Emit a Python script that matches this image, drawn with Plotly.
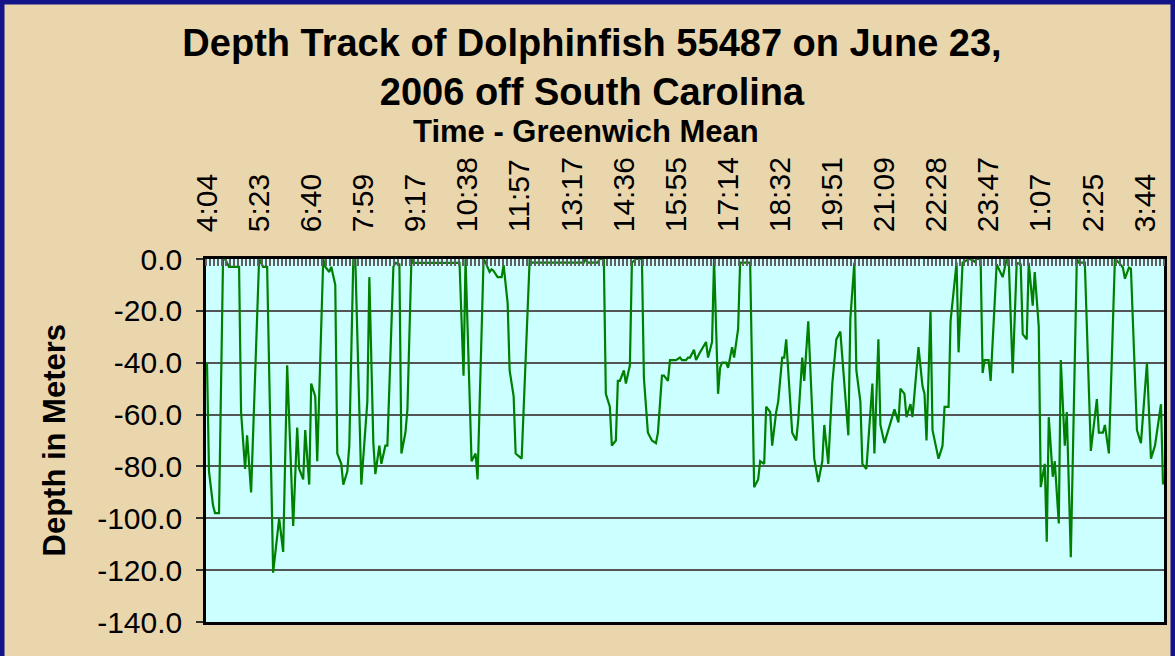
import plotly.graph_objects as go

# ---- data ----
time_labels = ["4:04", "5:23", "6:40", "7:59", "9:17", "10:38", "11:57", "13:17",
               "14:36", "15:55", "17:14", "18:32", "19:51", "21:09", "22:28",
               "23:47", "1:07", "2:25", "3:44"]
label_every = 26          # one time label every 26 samples
n_samples = 478           # number of depth samples (categories)

sample_index = [
    0, 1, 3, 4, 6, 8, 9, 11, 16, 17, 19, 20, 22, 26, 28, 30, 33, 36, 38, 40,
    43, 45, 46, 48, 49, 51, 52, 54, 55, 58, 59, 61, 62, 64, 65, 67, 68, 70, 71, 73,
    74, 77, 80, 81, 83, 84, 86, 87, 89, 90, 93, 94, 96, 97, 99, 100, 102, 103, 126, 128,
    129, 132, 134, 135, 138, 139, 141, 142, 143, 145, 147, 148, 150, 151, 153, 154, 157, 161, 162, 188,
    189, 190, 195, 196, 198, 199, 201, 202, 204, 205, 206, 208, 209, 211, 212, 214, 217, 218, 220, 222,
    224, 225, 227, 228, 230, 231, 234, 236, 237, 239, 240, 241, 243, 244, 246, 248, 249, 250, 252, 253,
    255, 256, 257, 259, 260, 262, 263, 265, 266, 271, 273, 275, 276, 278, 279, 281, 282, 284, 285, 287,
    288, 289, 292, 294, 295, 297, 298, 300, 303, 305, 307, 308, 310, 312, 314, 316, 320, 321, 323, 324,
    326, 327, 329, 332, 333, 335, 336, 338, 340, 342, 343, 345, 346, 348, 349, 351, 352, 355, 357, 358,
    359, 361, 362, 365, 367, 368, 370, 371, 374, 375, 377, 378, 380, 382, 383, 384, 386, 387, 388, 390,
    391, 394, 396, 397, 399, 400, 402, 404, 406, 407, 409, 410, 412, 413, 415, 416, 418, 419, 420, 422,
    423, 425, 426, 428, 429, 431, 434, 435, 438, 441, 444, 445, 447, 448, 450, 453, 455, 457, 458, 460,
    461, 464, 466, 469, 471, 473, 476, 477,
]

depth_m = [
    -40, -82, -95, -98, -98, 0, 0, -3, -3, -59, -81, -68, -90, 0, -3, -3, -121, -100, -113, -41,
    -103, -65, -81, -85, -66, -87, -48, -53, -78, 0, -3, -5, -3, -10, -75, -79, -87, -82, -72, 0,
    0, -87, -55, -7, -71, -83, -72, -79, -72, -72, -3, -1.5, -2, -75, -67, -58, 0, -1.5, -1.5, -45,
    0, -78, -75, -85, 0, -1.4, -5, -4, -4.6, -7, -7, -2.4, -17, -43, -53, -75, -77, 0, -1.4, -1.4,
    0, -1.4, -1.4, 0, 0, -52, -57, -72, -70, -47, -47, -43, -48, -41, -1.4, 0, 0, -46, -67, -70,
    -71, -67, -45, -45, -47, -39, -39, -38, -39, -39, -38, -38, -35, -39, -36, -33, -32, -38, -32, 0,
    -52, -42, -40, -40, -42, -34, -38, -27, -1.4, -1.4, -88, -85, -78, -79, -57, -59, -72, -59, -55, -38,
    -38, -31, -67, -70, -62, -38, -47, -24, -77, -86, -78, -64, -79, -48, -31, -28, -68, -23, -1.4, -43,
    -55, -79, -81, -48, -75, -31, -64, -71, -66, -61, -58, -63, -50, -52, -61, -56, -61, -34, -49, -52,
    -70, -20, -66, -77, -72, -57, -57, -24, -1.4, -36, -1.4, -1, 0, -0.4, -1, 0, 0, -44, -39, -39,
    -47, -2, -5, -7, 0, 0, -44, -1.5, -2, -29, -31, -1.5, -18, -5, -26, -88, -79, -109, -61, -84,
    -78, -102, -39, -72, -59, -115, 0, -1.4, -1.4, -74, -54, -67, -67, -64, -75, 0, -1.4, -3.3, -7.6, -3.3,
    -3.7, -66, -71, -40, -77, -72, -56, -87,
]

depth_ticks = [0, -20, -40, -60, -80, -100, -120, -140]

FONT = "Arial, Liberation Sans, sans-serif"

fig = go.Figure(
    go.Scatter(x=sample_index, y=depth_m, mode="lines",
               line=dict(color="#008000", width=2.2), hoverinfo="skip")
)

W, H = 1175, 656
ML, MR, MT, MB = 206, 11, 259, 34
PW, PH = W - ML - MR, H - MT - MB

fig.update_layout(
    width=W, height=H,
    margin=dict(l=ML, r=MR, t=MT, b=MB, autoexpand=False),
    paper_bgcolor="#EAD6AC",
    plot_bgcolor="#CCFFFF",
    showlegend=False,
    font=dict(family=FONT, color="black"),
    title=dict(
        text="<b>Depth Track of Dolphinfish 55487 on June 23,<br>2006 off South Carolina</b>",
        x=592 / W, xanchor="center", y=1 - 56 / H, yanchor="top",
        font=dict(size=38, family=FONT, color="black"),
    ),
    xaxis=dict(
        side="top",
        range=[-0.5, n_samples - 0.5],
        tickmode="array",
        tickvals=[i * label_every for i in range(len(time_labels))],
        ticktext=time_labels,
        tickangle=-90,
        tickfont=dict(size=30, family=FONT, color="black"),
        ticks="",
        ticklabelstandoff=18,
        showgrid=False, zeroline=False,
        showline=True, mirror=True, linecolor="black", linewidth=2.5,
        minor=dict(tickmode="linear", tick0=-0.5, dtick=2, ticks="inside",
                   ticklen=7, tickwidth=2, tickcolor="#606060", showgrid=False),
    ),
    yaxis=dict(
        range=[-140, 0],
        tickmode="array",
        tickvals=depth_ticks,
        ticktext=[f"{v:.1f}" for v in depth_ticks],
        tickfont=dict(size=30, family=FONT, color="black"),
        ticks="outside", ticklen=7, tickwidth=1.5, tickcolor="#333333",
        ticklabelstandoff=8,
        showgrid=True, gridcolor="#555555", gridwidth=1.5,
        zeroline=False,
        showline=True, mirror=True, linecolor="black", linewidth=2.5,
    ),
)

# axis titles
fig.add_annotation(text="<b>Time - Greenwich Mean</b>", xref="paper", yref="paper",
                   x=(586 - ML) / PW, y=(H - MB - 132) / PH,
                   xanchor="center", yanchor="middle", showarrow=False,
                   font=dict(size=31, family=FONT, color="black"))
fig.add_annotation(text="<b>Depth in Meters</b>", xref="paper", yref="paper",
                   x=(54 - ML) / PW, y=0.5, textangle=-90,
                   xanchor="center", yanchor="middle", showarrow=False,
                   font=dict(size=31, family=FONT, color="black"))

# dark blue frame around the chart area
fig.add_shape(type="rect", xref="paper", yref="paper",
              x0=(2 - ML) / PW, x1=(W - 2 - ML) / PW,
              y0=-0.3, y1=(H - MB - 2) / PH,
              line=dict(color="#14148A", width=5), fillcolor="rgba(0,0,0,0)", layer="above")

fig.write_html(
    "out.html",
    config={"displayModeBar": False},
    post_script="document.body.style.margin='0';document.body.style.overflow='hidden';",
)
